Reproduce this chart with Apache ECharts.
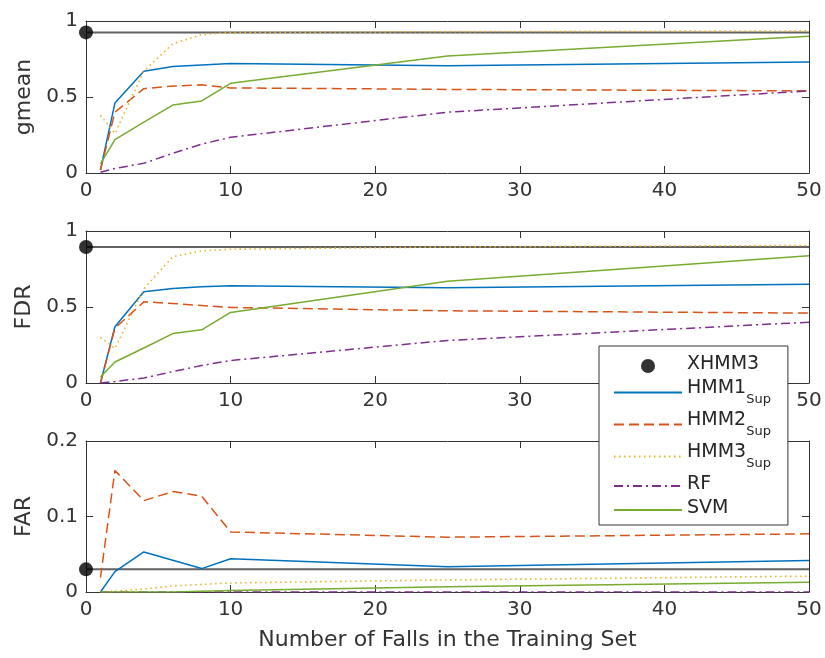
<!DOCTYPE html>
<html><head><meta charset="utf-8">
<script src="https://cdn.jsdelivr.net/npm/echarts@6/dist/echarts.min.js"></script>
<style>html,body{margin:0;padding:0;background:#fff}#c{width:825px;height:658px}</style>
</head><body><div id="c"></div>
<script>
// ---- data ----
const fallCounts = [1, 2, 4, 6, 8, 10, 25, 50];
const xLimits = [0, 50];
const xTickStep = 10;
const panelNames = ['gmean', 'FDR', 'FAR'];
const yLimits = [[0, 1], [0, 1], [0, 0.2]];
const yTickSteps = [0.5, 0.5, 0.1];
const seriesNames = ['HMM1', 'HMM2', 'HMM3', 'RF', 'SVM'];
const xhmm3Values = [0.925, 0.895, 0.03];

const gmeanHMM1 = [0.02, 0.46, 0.67, 0.70, 0.71, 0.72, 0.705, 0.73];
const gmeanHMM2 = [0.02, 0.40, 0.555, 0.572, 0.58, 0.56, 0.55, 0.54];
const gmeanHMM3 = [0.38, 0.26, 0.67, 0.85, 0.91, 0.925, 0.93, 0.935];
const gmeanRF   = [0.005, 0.03, 0.064, 0.13, 0.19, 0.235, 0.40, 0.54];
const gmeanSVM  = [0.06, 0.22, 0.335, 0.447, 0.474, 0.59, 0.77, 0.90];

const fdrHMM1 = [0.0, 0.37, 0.60, 0.622, 0.633, 0.64, 0.626, 0.649];
const fdrHMM2 = [0.0, 0.36, 0.534, 0.523, 0.51, 0.497, 0.475, 0.46];
const fdrHMM3 = [0.30, 0.227, 0.62, 0.83, 0.87, 0.88, 0.895, 0.905];
const fdrRF   = [0.0, 0.01, 0.033, 0.075, 0.115, 0.148, 0.28, 0.40];
const fdrSVM  = [0.04, 0.138, 0.23, 0.325, 0.35, 0.464, 0.67, 0.837];

const farHMM1 = [0.0, 0.027, 0.053, 0.042, 0.031, 0.044, 0.0334, 0.0417];
const farHMM2 = [0.019, 0.161, 0.121, 0.133, 0.127, 0.0795, 0.0726, 0.077];
const farHMM3 = [0.0, 0.001, 0.004, 0.008, 0.010, 0.012, 0.016, 0.021];
const farRF   = [0, 0, 0, 0, 0, 0, 0, 0];
const farSVM  = [0, 0, 0, 0, 0.001, 0.002, 0.007, 0.013];

const panelData = [
  [gmeanHMM1, gmeanHMM2, gmeanHMM3, gmeanRF, gmeanSVM],
  [fdrHMM1, fdrHMM2, fdrHMM3, fdrRF, fdrSVM],
  [farHMM1, farHMM2, farHMM3, farRF, farSVM]
];

// ---- styles ----
const FONT = 'DejaVu Sans';
const AX = '#333333';
const colors = ['#0072BD', '#D95319', '#EDB120', '#7E2F8E', '#77AC30'];
const dashes = ['solid', [10, 5], [1.5, 3.5], [9, 4, 2, 4], 'solid'];
const widths = [1.5, 1.5, 1.6, 1.5, 1.5];
const grids = [
  { left: 86, top: 21, width: 723, height: 152 },
  { left: 86, top: 231, width: 723, height: 152 },
  { left: 86, top: 441, width: 723, height: 151 }
];

const xAxes = [], yAxes = [], series = [];
grids.forEach((g, i) => {
  const baseX = {
    type: 'value', gridIndex: i, min: xLimits[0], max: xLimits[1], interval: xTickStep,
    axisLine: { show: true, onZero: false, lineStyle: { color: AX, width: 1 } },
    axisTick: { show: true, inside: true, length: 7, lineStyle: { color: AX } },
    splitLine: { show: false }
  };
  xAxes.push(Object.assign({}, baseX, {
    position: 'bottom',
    axisLabel: { show: true, fontFamily: FONT, fontSize: 20, color: AX, margin: 8 },
    name: i === 2 ? 'Number of Falls in the Training Set' : '',
    nameLocation: 'middle', nameGap: 37,
    nameTextStyle: { fontFamily: FONT, fontSize: 22, color: AX }
  }));
  xAxes.push(Object.assign({}, baseX, { position: 'top', axisLabel: { show: false } }));
  const baseY = {
    type: 'value', gridIndex: i, min: yLimits[i][0], max: yLimits[i][1], interval: yTickSteps[i],
    axisLine: { show: true, onZero: false, lineStyle: { color: AX, width: 1 } },
    axisTick: { show: true, inside: true, length: 7, lineStyle: { color: AX } },
    splitLine: { show: false }
  };
  yAxes.push(Object.assign({}, baseY, {
    position: 'left',
    axisLabel: { show: true, fontFamily: FONT, fontSize: 20, color: AX, margin: 8 },
    name: panelNames[i], nameLocation: 'middle', nameGap: 50,
    nameTextStyle: { fontFamily: FONT, fontSize: 22, color: AX }
  }));
  yAxes.push(Object.assign({}, baseY, { position: 'right', axisLabel: { show: false } }));

  const xi = i * 2, yi = i * 2;
  seriesNames.forEach((nm, k) => {
    series.push({
      name: nm, type: 'line', xAxisIndex: xi, yAxisIndex: yi,
      data: fallCounts.map((x, j) => [x, panelData[i][k][j]]),
      symbol: 'none', showSymbol: false, silent: true, z: 3,
      lineStyle: { color: colors[k], width: widths[k], type: dashes[k] },
      itemStyle: { color: colors[k] }
    });
  });
  series.push({
    name: 'XHMM3 level', type: 'line', xAxisIndex: xi, yAxisIndex: yi,
    data: xLimits.map(x => [x, xhmm3Values[i]]),
    symbol: 'none', silent: true, z: 2,
    lineStyle: { color: '#626262', width: 2 }
  });
  series.push({
    name: 'XHMM3', type: 'scatter', xAxisIndex: xi, yAxisIndex: yi,
    data: [[xLimits[0], xhmm3Values[i]]],
    symbol: 'circle', symbolSize: 14, clip: false, silent: true, z: 5,
    itemStyle: { color: '#000' }
  });
});

const legendItems = [{ name: 'XHMM3' }].concat(seriesNames.map(nm => ({
  name: nm, itemStyle: { color: 'transparent', borderWidth: 0, opacity: 0 }
})));

const chart = echarts.init(document.getElementById('c'), null, { renderer: 'canvas' });
chart.setOption({
  animation: false,
  backgroundColor: '#fff',
  grid: grids,
  xAxis: xAxes,
  yAxis: yAxes,
  legend: {
    data: legendItems,
    orient: 'vertical', left: 599, top: 346,
    padding: [9, 17, 7, 14], itemGap: 5,
    itemWidth: 68, itemHeight: 14,
    backgroundColor: '#fff', borderColor: '#333', borderWidth: 1,
    selectedMode: false,
    formatter: function (name) {
      return name.indexOf('HMM') === 0 ? '{m|' + name + '}{s|Sup}' : '{m|' + name + '}';
    },
    textStyle: {
      fontFamily: FONT, fontSize: 19, color: '#262626',
      rich: {
        m: { fontFamily: FONT, fontSize: 19, lineHeight: 22, verticalAlign: 'top', color: '#262626' },
        s: { fontFamily: FONT, fontSize: 13, padding: [14, 0, 0, 0], verticalAlign: 'top', color: '#262626' }
      }
    }
  },
  series: series
});
</script>
</body></html>
